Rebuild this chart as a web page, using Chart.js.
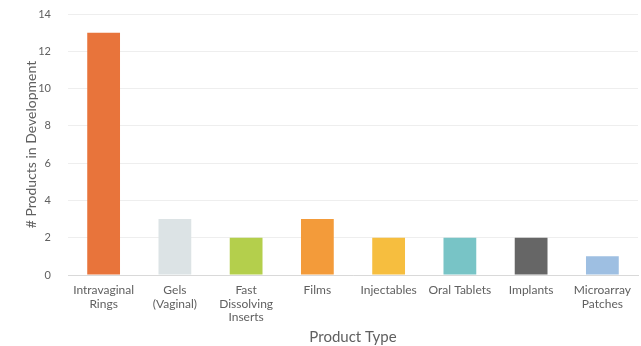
<!DOCTYPE html>
<html>
<head>
<meta charset="utf-8">
<script src="https://cdn.jsdelivr.net/npm/chart.js@4"></script>
<style>
  html, body { margin: 0; padding: 0; background: #fff; }
  #wrap { width: 641px; height: 346px; }
</style>
</head>
<body>
<div id="wrap"><canvas id="productChart"></canvas></div>
<script>
// Products in development, by type
const categories = [
  ["Intravaginal", "Rings"],
  ["Gels", "(Vaginal)"],
  ["Fast", "Dissolving", "Inserts"],
  "Films",
  "Injectables",
  "Oral Tablets",
  "Implants",
  ["Microarray", "Patches"]
];
const productCounts = [13, 3, 2, 3, 2, 2, 2, 1];
const barColors = ["#E8743B", "#DCE3E5", "#B4CF4C", "#F39B3A", "#F6BE3F", "#78C4C6", "#666666", "#9EBFE2"];
const yTicks = [0, 2, 4, 6, 8, 10, 12, 14];

const ctx = document.getElementById("productChart").getContext("2d");

new Chart(ctx, {
  type: "bar",
  data: {
    labels: categories,
    datasets: [{
      data: productCounts,
      backgroundColor: barColors,
      borderWidth: 0,
      barPercentage: 0.46,
      categoryPercentage: 1.0
    }]
  },
  options: {
    responsive: true,
    maintainAspectRatio: false,
    animation: false,
    layout: { padding: { top: 0, right: 3, left: 23, bottom: 0 } },
    plugins: {
      legend: { display: false },
      tooltip: { enabled: false }
    },
    scales: {
      x: {
        grid: { display: false },
        border: { color: "#d9d9d9" },
        afterFit: (axis) => { axis.height = 71; },
        ticks: {
          color: "#606060",
          font: { family: "Lato", size: 12, lineHeight: 1.15 },
          maxRotation: 0,
          autoSkip: false,
          padding: 0
        },
        title: {
          display: true,
          text: "Product Type",
          color: "#606060",
          font: { family: "Lato", size: 15 },
          padding: { top: 3, bottom: 0 }
        }
      },
      y: {
        min: 0,
        max: 14,
        afterBuildTicks: (axis) => { axis.ticks = yTicks.map(v => ({ value: v })); },
        afterFit: (axis) => {
          axis.width = 45;
          // tick padding is for the horizontal gap only; keep the top tight
          axis.paddingTop = 14;
          axis.paddingBottom = 7;
        },
        grid: { color: "#eeeeee", drawTicks: false },
        border: { display: false },
        ticks: {
          color: "#606060",
          font: { family: "Lato", size: 11 },
          padding: 17
        },
        title: {
          display: true,
          text: "# Products in Development",
          color: "#606060",
          font: { family: "Lato", size: 14 },
          padding: { top: 0, bottom: 2 }
        }
      }
    }
  }
});
</script>
</body>
</html>
